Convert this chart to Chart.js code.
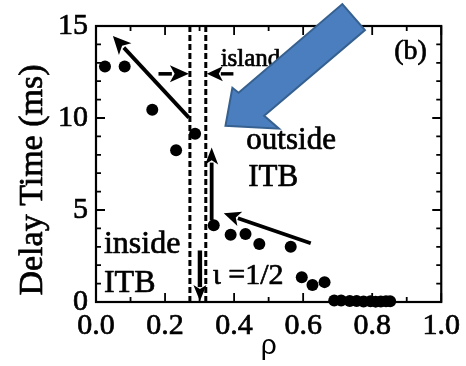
<!DOCTYPE html>
<html><head><meta charset="utf-8">
<script src="https://cdn.jsdelivr.net/npm/chart.js@4"></script>
<style>html,body{margin:0;padding:0;background:#fff}</style>
</head><body>
<canvas id="c" width="466" height="366"></canvas>
<script>
// ---- data ----
const rho   = [0.026,0.083,0.163,0.232,0.287,0.341,0.390,0.433,0.473,0.564,0.596,0.627,0.662,0.690,0.710,0.735,0.755,0.775,0.795,0.810,0.825,0.840,0.852];
const delay = [12.8,12.8,10.45,8.25,9.15,4.17,3.65,3.70,3.15,3.00,1.35,0.92,1.08,0.08,0.08,0.06,0.05,0.03,0.04,0.02,0.03,0.04,0.04];
const xTickValues = [0,0.2,0.4,0.6,0.8,1.0];
const yTickValues = [0,5,10,15];
const dashedRho = [0.272, 0.318];
// black arrows: [tailX, tailY, tipX, tipY] in data units
const arrowTails = [[0.269,10.02],[0.181,12.40],[0.398,12.40],[0.335,4.44],[0.622,3.19],[0.301,2.80]];
const arrowTips  = [[0.049,14.46],[0.269,12.40],[0.321,12.40],[0.335,8.39],[0.370,4.82],[0.301,0.05]];
// blue block arrow outline in data units
const blueArrowPts = [[0.7135,16.19],[0.779,14.78],[0.487,10.12],[0.530,9.42],[0.375,9.58],[0.395,11.64],[0.413,11.37]];
const noteTexts = ["island","outside","ITB","inside","ITB","\u03B9 =1/2","(b)"];
const noteRho   = [0.361,0.4355,0.441,0.023,0.023,0.338,0.911];
const noteDelay = [12.83,8.34,6.28,2.65,0.54,0.97,13.2];

const SERIF = "'Liberation Serif','Times New Roman',serif";

function arrow(ctx, x0, y0, x1, y1, lw, hl, hw) {
  const dx = x1 - x0, dy = y1 - y0, L = Math.hypot(dx, dy);
  const ux = dx / L, uy = dy / L;
  const bx = x1 - ux * hl, by = y1 - uy * hl;
  ctx.beginPath(); ctx.lineWidth = lw; ctx.lineCap = 'butt';
  ctx.moveTo(x0, y0); ctx.lineTo(bx + ux * 2, by + uy * 2); ctx.stroke();
  ctx.beginPath();
  ctx.moveTo(x1, y1);
  ctx.lineTo(bx - uy * hw, by + ux * hw);
  ctx.lineTo(bx + ux * hl * 0.25, by + uy * hl * 0.25);
  ctx.lineTo(bx + uy * hw, by - ux * hw);
  ctx.closePath(); ctx.fill();
}

const decor = {
  id: 'decor',
  beforeDraw(chart) {
    const ctx = chart.ctx;
    ctx.save(); ctx.fillStyle = '#fff'; ctx.fillRect(0, 0, chart.width, chart.height); ctx.restore();
  },
  afterDatasetsDraw(chart) {
    const ctx = chart.ctx, xs = chart.scales.x, ys = chart.scales.y, a = chart.chartArea;
    const X = v => xs.getPixelForValue(v), Y = v => ys.getPixelForValue(v);
    ctx.save();
    ctx.strokeStyle = '#000'; ctx.fillStyle = '#000';
    // frame
    ctx.lineWidth = 2.2;
    ctx.strokeRect(a.left, a.top, a.right - a.left, a.bottom - a.top);
    // ticks (inward, all four sides)
    ctx.lineWidth = 1.8;
    ctx.beginPath();
    for (let i = 0; i <= 10; i++) {
      const px = X(i / 10), len = (i % 2 === 0) ? 9 : 5;
      ctx.moveTo(px, a.bottom); ctx.lineTo(px, a.bottom - len);
      ctx.moveTo(px, a.top); ctx.lineTo(px, a.top + len);
    }
    for (let j = 0; j <= 15; j++) {
      const py = Y(j), len = (j % 5 === 0) ? 9 : 5;
      ctx.moveTo(a.left, py); ctx.lineTo(a.left + len, py);
      ctx.moveTo(a.right, py); ctx.lineTo(a.right - len, py);
    }
    ctx.stroke();
    // dashed lines
    ctx.lineWidth = 3; ctx.setLineDash([6, 3]);
    ctx.beginPath();
    dashedRho.forEach(r => { ctx.moveTo(X(r), a.top); ctx.lineTo(X(r), a.bottom); });
    ctx.stroke(); ctx.setLineDash([]);
    // black arrows
    const hl = [18, 19, 16, 17, 17, 16], hw = [8.5, 8.5, 7.5, 6.5, 7.5, 6.5], lw = [3.8, 3.6, 3.4, 3.8, 3.8, 4.4];
    arrowTails.forEach((t, i) => arrow(ctx, X(t[0]), Y(t[1]), X(arrowTips[i][0]), Y(arrowTips[i][1]), lw[i], hl[i], hw[i]));
    // annotation texts
    const sizes = [25, 31, 31, 32, 32, 30, 28];
    ctx.textBaseline = 'alphabetic';
    ctx.lineWidth = 0.7; ctx.lineJoin = 'round';
    noteTexts.forEach((s, i) => {
      ctx.font = sizes[i] + 'px ' + SERIF;
      ctx.textAlign = (i === 6) ? 'center' : 'left';
      ctx.fillText(s, X(noteRho[i]), Y(noteDelay[i]));
      ctx.strokeText(s, X(noteRho[i]), Y(noteDelay[i]));
    });
    // axis titles
    ctx.font = '28px ' + "'Liberation Sans',Arial,sans-serif";
    ctx.textAlign = 'center'; ctx.textBaseline = 'middle';
    ctx.fillText('\u03C1', (a.left + a.right) / 2, 346);
    ctx.save();
    ctx.translate(33, 180); ctx.rotate(-Math.PI / 2);
    ctx.font = '34px ' + SERIF;
    ctx.fillText('Delay Time (ms)', 0, 0);
    ctx.strokeText('Delay Time (ms)', 0, 0);
    ctx.restore();
    // blue block arrow
    ctx.beginPath();
    blueArrowPts.forEach((p, i) => i ? ctx.lineTo(X(p[0]), Y(p[1])) : ctx.moveTo(X(p[0]), Y(p[1])));
    ctx.closePath();
    ctx.fillStyle = '#4A7EBE'; ctx.fill();
    ctx.lineWidth = 2; ctx.strokeStyle = '#36608F'; ctx.lineJoin = 'miter'; ctx.stroke();
    ctx.restore();
  }
};

new Chart(document.getElementById('c'), {
  type: 'scatter',
  data: { datasets: [{
    data: rho.map((r, i) => ({ x: r, y: delay[i] })),
    backgroundColor: '#000', borderColor: '#000', pointRadius: 6, pointBorderWidth: 0, clip: false
  }]},
  options: {
    responsive: false, animation: false, devicePixelRatio: 1,
    layout: { padding: { top: 25, right: 21, left: 0, bottom: 0 } },
    plugins: { legend: { display: false }, tooltip: { enabled: false } },
    scales: {
      x: {
        type: 'linear', min: 0, max: 1,
        afterFit: s => { s.height = 64; },
        afterBuildTicks: s => { s.ticks = xTickValues.map(v => ({ value: v })); },
        grid: { display: false, drawTicks: false }, border: { display: false },
        ticks: { autoSkip: false, maxRotation: 0, padding: 6, color: '#000',
          textStrokeColor: '#000', textStrokeWidth: 0.7,
          font: { family: SERIF, size: 30 }, callback: v => Number(v).toFixed(1) }
      },
      y: {
        type: 'linear', min: 0, max: 15,
        afterFit: s => { s.width = 96; },
        afterBuildTicks: s => { s.ticks = yTickValues.map(v => ({ value: v })); },
        grid: { display: false, drawTicks: false }, border: { display: false },
        ticks: { autoSkip: false, padding: 8, color: '#000',
          textStrokeColor: '#000', textStrokeWidth: 0.7,
          font: { family: SERIF, size: 30 }, callback: v => String(v) }
      }
    }
  },
  plugins: [decor]
});
</script>
</body></html>
